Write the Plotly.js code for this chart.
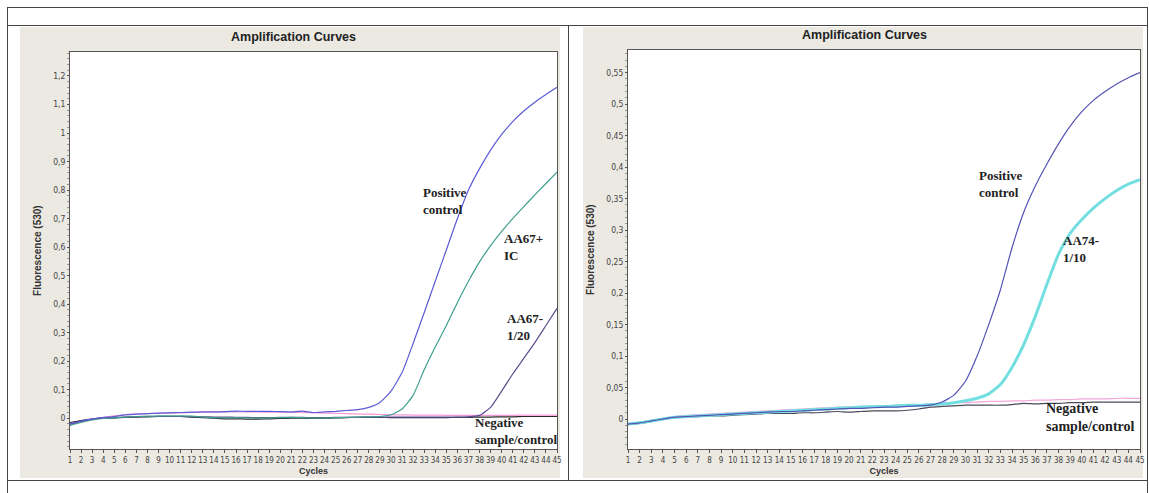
<!DOCTYPE html>
<html>
<head>
<meta charset="utf-8">
<script src="https://cdn.plot.ly/plotly-3.0.1.min.js"></script>
<style>
  html, body { margin: 0; padding: 0; background: #ffffff; }
  #chart { width: 1149px; height: 493px; }
</style>
</head>
<body>
<div id="chart"></div>
<script>
// ---------------- DATA ----------------
const cycles = [1,2,3,4,5,6,7,8,9,10,11,12,13,14,15,16,17,18,19,20,21,22,23,24,25,26,27,28,29,30,31,32,33,34,35,36,37,38,39,40,41,42,43,44,45];
const xTickLabels = ["1","2","3","4","5","6","7","8","9","10","11","12","13","14","15","16","17","18","19","20","21","22","23","24","25","26","27","28","29","30","31","32","33","34","35","36","37","38","39","40","41","42","43","44","45"];
const leftYTicks = [0, 0.1, 0.2, 0.3, 0.4, 0.5, 0.6, 0.7, 0.8, 0.9, 1, 1.1, 1.2];
const leftYLabels = ["0", "0,1", "0,2", "0,3", "0,4", "0,5", "0,6", "0,7", "0,8", "0,9", "1", "1,1", "1,2"];
const rightYTicks = [0, 0.05, 0.1, 0.15, 0.2, 0.25, 0.3, 0.35, 0.4, 0.45, 0.5, 0.55];
const rightYLabels = ["0", "0,05", "0,1", "0,15", "0,2", "0,25", "0,3", "0,35", "0,4", "0,45", "0,5", "0,55"];

// Left chart
const leftPositive = [-0.020,-0.010,-0.003,0.002,0.006,0.012,0.014,0.016,0.018,0.019,0.020,0.021,0.022,0.022,0.023,0.025,0.024,0.024,0.024,0.023,0.022,0.025,0.020,0.022,0.024,0.027,0.030,0.038,0.055,0.095,0.160,0.262,0.370,0.480,0.590,0.700,0.800,0.875,0.940,0.995,1.040,1.077,1.108,1.135,1.160];
const leftAA67IC = [-0.025,-0.015,-0.006,-0.001,0.001,0.004,0.006,0.007,0.008,0.008,0.008,0.007,0.004,0.002,0.001,0.002,0.001,0.000,0.001,0.002,0.003,0.002,0.000,0.001,0.002,0.003,0.004,0.005,0.006,0.012,0.032,0.080,0.170,0.250,0.325,0.405,0.480,0.548,0.605,0.655,0.700,0.742,0.783,0.823,0.863];
const leftAA67Dil = [-0.022,-0.012,-0.004,0.000,0.002,0.004,0.005,0.006,0.006,0.006,0.006,0.005,0.005,0.004,0.004,0.003,0.003,0.002,0.002,0.003,0.003,0.003,0.002,0.002,0.003,0.003,0.003,0.004,0.004,0.004,0.004,0.004,0.004,0.004,0.004,0.004,0.005,0.010,0.038,0.095,0.155,0.210,0.265,0.325,0.385];
const leftNegPink = [-0.018,-0.008,-0.002,0.003,0.008,0.013,0.015,0.016,0.017,0.018,0.019,0.020,0.021,0.021,0.022,0.022,0.022,0.022,0.021,0.021,0.020,0.020,0.019,0.018,0.017,0.016,0.015,0.014,0.013,0.012,0.012,0.011,0.011,0.011,0.010,0.010,0.010,0.010,0.010,0.010,0.010,0.011,0.011,0.011,0.011];
const leftNegDark = [-0.015,-0.008,-0.003,0.000,0.001,0.003,0.004,0.005,0.006,0.006,0.006,0.004,0.002,0.000,-0.002,-0.002,-0.003,-0.003,-0.002,-0.001,0.000,0.000,-0.001,0.000,0.001,0.002,0.003,0.003,0.003,0.002,0.002,0.002,0.002,0.002,0.002,0.003,0.003,0.004,0.004,0.005,0.005,0.006,0.006,0.006,0.006];

// Right chart
const rightPositive = [-0.008,-0.006,-0.003,0.000,0.003,0.004,0.005,0.006,0.007,0.008,0.009,0.010,0.011,0.012,0.012,0.013,0.014,0.015,0.016,0.017,0.017,0.018,0.019,0.019,0.020,0.021,0.022,0.027,0.038,0.060,0.100,0.150,0.205,0.272,0.328,0.370,0.405,0.437,0.465,0.488,0.506,0.520,0.532,0.542,0.550];
const rightAA74Dil = [-0.008,-0.006,-0.003,0.000,0.003,0.004,0.005,0.006,0.007,0.008,0.009,0.010,0.011,0.012,0.013,0.014,0.015,0.016,0.017,0.018,0.019,0.020,0.020,0.021,0.022,0.022,0.023,0.024,0.026,0.029,0.033,0.040,0.055,0.082,0.118,0.163,0.214,0.262,0.295,0.317,0.335,0.350,0.363,0.373,0.380];
const rightNegPink = [-0.007,-0.005,-0.002,0.001,0.004,0.006,0.007,0.008,0.009,0.010,0.011,0.012,0.013,0.014,0.015,0.016,0.017,0.018,0.019,0.019,0.020,0.021,0.021,0.022,0.023,0.023,0.024,0.025,0.026,0.026,0.027,0.028,0.028,0.029,0.029,0.030,0.030,0.031,0.031,0.032,0.032,0.032,0.033,0.033,0.033];
const rightNegDark = [-0.009,-0.007,-0.004,0.000,0.002,0.003,0.004,0.005,0.005,0.006,0.007,0.008,0.009,0.009,0.009,0.010,0.010,0.011,0.012,0.011,0.012,0.013,0.013,0.013,0.014,0.016,0.019,0.020,0.021,0.022,0.022,0.022,0.022,0.023,0.025,0.024,0.025,0.025,0.026,0.026,0.027,0.027,0.027,0.027,0.027];

// ---------------- STYLE ----------------
const W = 1149, H = 493;
const px = v => v / W;          // pixel x -> paper
const py = v => 1 - v / H;      // pixel y -> paper
const narrow = "Liberation Sans Narrow, DejaVu Sans Condensed, Arial Narrow, Liberation Sans, sans-serif";
const sans = "Liberation Sans, Arial, sans-serif";
const serif = "Liberation Serif, Times New Roman, serif";
const axisColor = "#555555";
const tickText = "#444444";

function line(x, y, xa, ya, color, width) {
  return { x: x, y: y, xaxis: xa, yaxis: ya, type: "scatter", mode: "lines",
           line: { color: color, width: width, shape: "spline", smoothing: 0.5 },
           hoverinfo: "skip" };
}

const traces = [
  line(cycles, leftNegPink, "x", "y", "#f49ad8", 1.2),
  line(cycles, leftNegDark, "x", "y", "#2a2a2a", 1.2),
  line(cycles, leftAA67Dil, "x", "y", "#5d4b8f", 1.2),
  line(cycles, leftAA67IC, "x", "y", "#3f9f8f", 1.2),
  line(cycles, leftPositive, "x", "y", "#5b5bd6", 1.2),
  line(cycles, rightNegPink, "x2", "y2", "#f4a6dc", 1.2),
  line(cycles, rightNegDark, "x2", "y2", "#4a4a5a", 1.2),
  line(cycles, rightAA74Dil, "x2", "y2", "#74dfe0", 3),
  line(cycles, rightPositive, "x2", "y2", "#5353b5", 1.2)
];

function xAxis(domain, anchor) {
  return {
    domain: domain, anchor: anchor, range: [1, 45],
    tickmode: "array", tickvals: cycles, ticktext: xTickLabels, tickangle: 0,
    ticks: "outside", ticklen: 3, tickcolor: axisColor, tickwidth: 1,
    tickfont: { family: narrow, size: 8, color: tickText },
    showline: true, mirror: true, linecolor: axisColor, linewidth: 1,
    showgrid: false, zeroline: false, fixedrange: true,
    title: { text: "<b>Cycles</b>", font: { family: sans, size: 9, color: "#333" }, standoff: 3 }
  };
}
function yAxis(domain, anchor, range, vals, labels, minor) {
  return {
    domain: domain, anchor: anchor, range: range,
    tickmode: "array", tickvals: vals, ticktext: labels,
    ticks: "outside", ticklen: 2, tickcolor: axisColor, tickwidth: 1,
    minor: { ticks: "outside", ticklen: 2, dtick: minor, tick0: 0, tickcolor: "#999", showgrid: false },
    tickfont: { family: narrow, size: 8.5, color: tickText },
    showline: true, mirror: true, linecolor: axisColor, linewidth: 1,
    showgrid: false, zeroline: false, fixedrange: true,
    title: { text: "<b>Fluorescence (530)</b>", font: { family: sans, size: 10, color: "#333" }, standoff: 9 }
  };
}

const panelFill = "#ebe9e2";
const border = "#444444";
const shapes = [
  // grey panels
  { type: "rect", xref: "paper", yref: "paper", x0: px(20), x1: px(560), y0: py(478), y1: py(27), fillcolor: panelFill, line: { width: 0 }, layer: "below" },
  { type: "rect", xref: "paper", yref: "paper", x0: px(583), x1: px(1143), y0: py(478), y1: py(27), fillcolor: panelFill, line: { width: 0 }, layer: "below" },
  // white plot areas
  { type: "rect", xref: "x domain", yref: "y domain", x0: 0, x1: 1, y0: 0, y1: 1, fillcolor: "#ffffff", line: { width: 0 }, layer: "below" },
  { type: "rect", xref: "x2 domain", yref: "y2 domain", x0: 0, x1: 1, y0: 0, y1: 1, fillcolor: "#ffffff", line: { width: 0 }, layer: "below" },
  // table borders
  { type: "line", xref: "paper", yref: "paper", x0: px(7), x1: px(1148), y0: py(7.5), y1: py(7.5), line: { color: border, width: 1 } },
  { type: "line", xref: "paper", yref: "paper", x0: px(7), x1: px(1148), y0: py(25.5), y1: py(25.5), line: { color: border, width: 1 } },
  { type: "line", xref: "paper", yref: "paper", x0: px(7), x1: px(1148), y0: py(480.5), y1: py(480.5), line: { color: border, width: 1 } },
  { type: "line", xref: "paper", yref: "paper", x0: px(7.5), x1: px(7.5), y0: py(7.5), y1: py(493), line: { color: border, width: 1 } },
  { type: "line", xref: "paper", yref: "paper", x0: px(568.5), x1: px(568.5), y0: py(25.5), y1: py(480.5), line: { color: border, width: 1 } },
  { type: "line", xref: "paper", yref: "paper", x0: px(1147.5), x1: px(1147.5), y0: py(7.5), y1: py(493), line: { color: border, width: 1 } }
];

function note(text, x, y, xa, ya, size, anchor) {
  return { text: "<b>" + text + "</b>", x: x, y: y, xref: xa, yref: ya, showarrow: false,
           xanchor: anchor || "left", yanchor: "middle", align: "left",
           font: { family: serif, size: size || 13, color: "#222" } };
}

const annotations = [
  { text: "<b>Amplification Curves</b>", xref: "paper", yref: "paper", x: px(293), y: py(37), showarrow: false,
    xanchor: "center", yanchor: "middle", font: { family: sans, size: 12.5, color: "#222" } },
  { text: "<b>Amplification Curves</b>", xref: "paper", yref: "paper", x: px(864), y: py(35), showarrow: false,
    xanchor: "center", yanchor: "middle", font: { family: sans, size: 12.5, color: "#222" } },
  note("Positive<br>control", 34.9, 0.76, "x", "y", 13, "center"),
  note("AA67+<br>IC", 40.0, 0.602, "x", "y", 13),
  note("AA67-<br>1/20", 40.3, 0.32, "x", "y", 13),
  note("Negative<br>sample/control", 37.4, -0.045, "x", "y", 13),
  note("Positive<br>control", 30.97, 0.374, "x2", "y2", 13),
  note("AA74-<br>1/10", 38.2, 0.27, "x2", "y2", 13),
  note("Negative<br>sample/control", 36.75, 0.0024, "x2", "y2", 14)
];

const layout = {
  width: W, height: H,
  margin: { l: 0, r: 0, t: 0, b: 0, pad: 0 },
  paper_bgcolor: "#ffffff", plot_bgcolor: "#ffffff",
  showlegend: false,
  xaxis: xAxis([px(70), px(557)], "y"),
  yaxis: yAxis([1 - 449.3 / H, 1 - 52 / H], "x", [-0.109, 1.284], leftYTicks, leftYLabels, 0.02),
  xaxis2: xAxis([px(628), px(1140)], "y2"),
  yaxis2: yAxis([1 - 449.3 / H, 1 - 50 / H], "x2", [-0.048, 0.586], rightYTicks, rightYLabels, 0.01),
  shapes: shapes,
  annotations: annotations
};

Plotly.newPlot("chart", traces, layout, { staticPlot: true, displayModeBar: false });
</script>
</body>
</html>
